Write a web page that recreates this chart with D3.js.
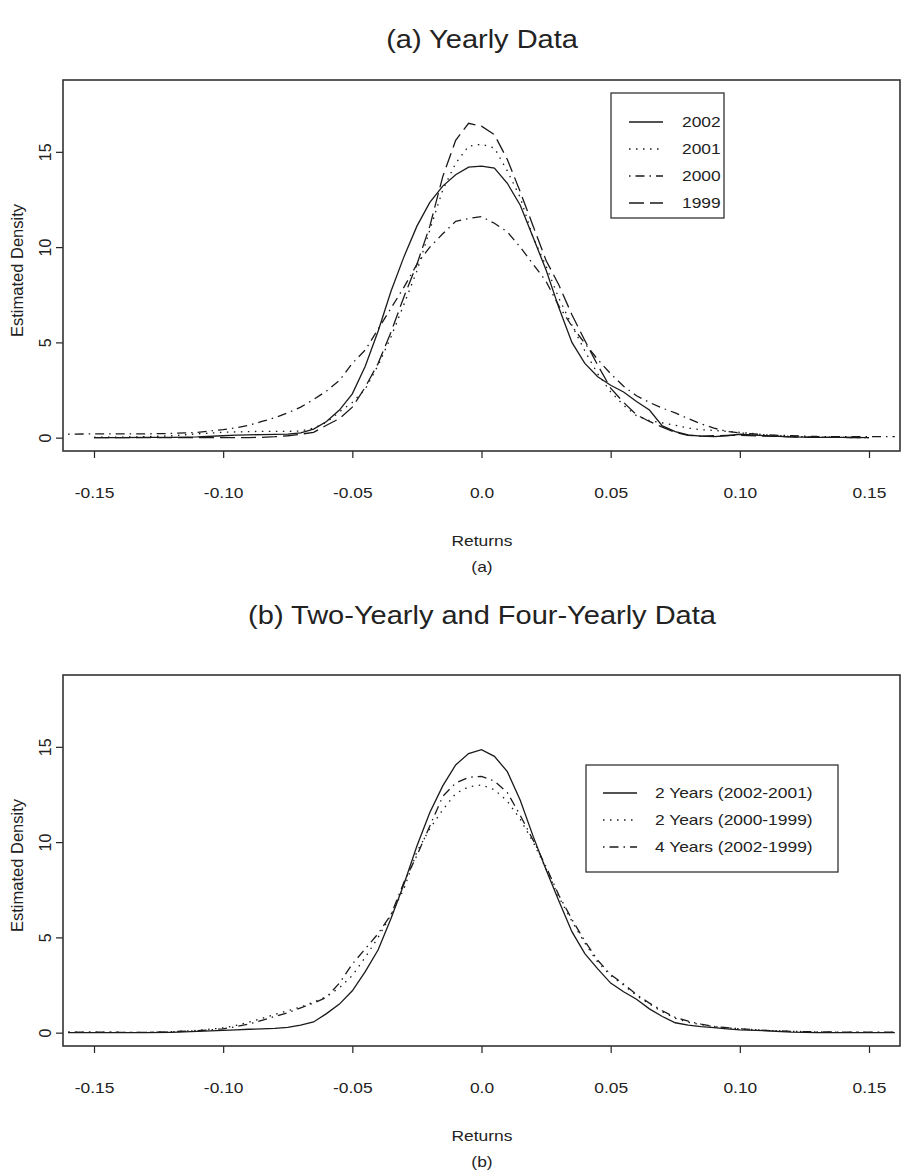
<!DOCTYPE html>
<html>
<head>
<meta charset="utf-8">
<script src="https://cdn.jsdelivr.net/npm/d3@7/dist/d3.min.js"></script>
<style>
  body { margin: 0; background: #fff; }
  svg { font-family: "Liberation Sans", Arial, Helvetica, sans-serif; }
</style>
</head>
<body>
<div id="chart"></div>
<script>
// shared grid of returns where the densities were read
const returnsGrid = [-0.16,-0.15,-0.14,-0.13,-0.12,-0.11,-0.10,
  -0.095,-0.09,-0.085,-0.08,-0.075,-0.07,-0.065,-0.06,-0.055,-0.05,-0.045,-0.04,-0.035,-0.03,-0.025,-0.02,-0.015,-0.01,-0.005,
  0,
  0.005,0.01,0.015,0.02,0.025,0.03,0.035,0.04,0.045,0.05,0.055,0.06,0.065,0.07,0.075,0.08,0.085,0.09,0.095,
  0.10,0.11,0.12,0.13,0.14,0.15,0.16];

// panel (a): yearly
const density2002 = [null,0.00,0.00,0.01,0.02,0.04,0.10,
  0.13,0.15,0.16,0.17,0.19,0.25,0.45,0.85,1.45,2.30,3.75,5.60,7.70,9.50,11.1,12.35,13.2,13.8,14.2,
  14.25,
  14.15,13.35,12.2,10.5,8.8,6.8,5.0,3.9,3.2,2.75,2.4,1.9,1.45,0.62,0.32,0.14,0.08,0.05,0.10,
  0.18,0.10,0.04,0.02,0.01,0.00,null];
const density2001 = [null,0.02,0.03,0.05,0.10,0.20,0.28,
  0.30,0.32,0.33,0.33,0.33,0.35,0.50,0.80,1.35,1.85,2.55,3.80,5.30,7.00,8.75,10.9,13.0,14.4,15.3,
  15.4,
  15.2,14.0,12.6,10.5,9.0,7.3,5.9,4.55,3.35,2.4,1.7,1.15,0.9,0.78,0.65,0.5,0.42,0.38,0.33,
  0.28,0.15,0.06,0.03,0.01,0.00,null];
const density2000 = [0.18,0.20,0.20,0.20,0.22,0.28,0.42,
  0.52,0.65,0.85,1.05,1.30,1.60,2.00,2.45,3.00,3.90,4.60,5.70,6.80,7.90,9.10,10.0,10.7,11.35,11.5,
  11.6,
  11.25,10.8,10.0,9.1,8.2,6.9,5.85,4.95,4.1,3.35,2.7,2.2,1.85,1.55,1.3,1.0,0.72,0.5,0.33,
  0.25,0.15,0.10,0.06,0.05,0.05,0.05];
const density1999 = [null,0,0,0,0,0,0,
  0,0,0.02,0.05,0.10,0.18,0.28,0.65,1.00,1.60,2.65,3.90,5.55,7.40,9.10,11.1,13.7,15.6,16.5,
  16.35,
  15.9,14.6,12.9,11.1,9.3,8.0,6.45,5.1,3.8,2.6,1.85,1.2,0.85,0.55,0.28,0.12,0.08,0.10,0.12,
  0.12,0.08,0.04,0.02,0.01,0.00,null];

// panel (b): pooled periods
const density2yr0201 = [0.0,0.0,0.0,0.0,0.02,0.07,0.12,
  0.15,0.18,0.20,0.23,0.28,0.40,0.56,1.00,1.50,2.20,3.20,4.35,6.00,7.80,9.80,11.55,12.95,14.05,14.65,
  14.85,
  14.5,13.7,12.2,10.3,8.55,6.9,5.3,4.15,3.35,2.6,2.15,1.75,1.25,0.85,0.52,0.40,0.32,0.26,0.20,
  0.15,0.10,0.03,0.0,0.0,0.0,0.0];
const density2yr0099 = [0.03,0.03,0.02,0.02,0.05,0.12,0.25,
  0.38,0.55,0.75,0.95,1.15,1.35,1.60,1.90,2.35,3.00,3.95,5.00,6.20,7.55,9.50,10.7,11.7,12.55,12.9,
  13.0,
  12.75,12.15,11.2,10.0,8.6,7.1,5.85,4.7,3.7,3.0,2.5,1.95,1.5,1.1,0.75,0.55,0.42,0.32,0.25,
  0.20,0.12,0.07,0.04,0.03,0.02,0.02];
const density4yr0299 = [0.03,0.03,0.02,0.02,0.05,0.10,0.20,
  0.32,0.45,0.65,0.85,1.05,1.30,1.55,1.85,2.60,3.60,4.40,5.20,6.20,7.90,9.30,10.85,12.4,13.1,13.4,
  13.45,
  13.2,12.6,11.4,10.1,8.7,7.2,5.95,4.8,3.8,3.05,2.55,2.0,1.55,1.15,0.8,0.6,0.45,0.33,0.26,
  0.20,0.12,0.07,0.04,0.03,0.03,0.03];

const xTicks = [-0.15,-0.10,-0.05,0.0,0.05,0.10,0.15];
const xTickLabels = ["-0.15","-0.10","-0.05","0.0","0.05","0.10","0.15"];
const yTicks = [0,5,10,15];

const yearlyNames = ["2002","2001","2000","1999"];
const pooledNames = ["2 Years (2002-2001)","2 Years (2000-1999)","4 Years (2002-1999)"];

// R line types
const dashes = { solid: null, dotted: "1.5,5.5", dotdash: "1.5,5,9,5", longdash: "15,6" };

const W = 902, H = 1170;
const svg = d3.select("#chart").append("svg").attr("width", W).attr("height", H);
const ink = "#222";
const SX = 1.16;   // the scanned figure is a little wider than tall

const x = d3.scaleLinear().domain([-0.162, 0.162]).range([63, 900]);

// horizontal text, slightly stretched like the source image
function label(parent, tx, ty, str, size, anchor) {
  return parent.append("text")
    .attr("transform", `translate(${tx},${ty}) scale(${SX},1)`)
    .attr("text-anchor", anchor || "middle")
    .attr("dy", "0.35em")
    .style("font-size", size + "px")
    .attr("fill", ink)
    .text(str);
}

function drawPanel(p) {
  const y = d3.scaleLinear().domain([-0.70, 18.77]).range([p.bottom, p.top]);
  const g = svg.append("g");

  label(g, 482, p.titleY, p.title, 25);

  const clipId = "clip-" + p.id;
  g.append("clipPath").attr("id", clipId)
    .append("rect")
    .attr("x", x.range()[0]).attr("y", p.top)
    .attr("width", x.range()[1] - x.range()[0]).attr("height", p.bottom - p.top);

  const line = d3.line()
    .defined(d => d[1] != null)
    .x(d => x(d[0]))
    .y(d => y(d[1]));

  const curves = g.append("g").attr("clip-path", `url(#${clipId})`);
  p.series.forEach(s => {
    curves.append("path")
      .datum(returnsGrid.map((r, i) => [r, s.values[i]]))
      .attr("d", line)
      .attr("fill", "none")
      .attr("stroke", "#1a1a1a")
      .attr("stroke-width", 1.3)
      .attr("stroke-dasharray", dashes[s.lty]);
  });

  // x axis
  const xa = g.append("g")
    .attr("transform", `translate(0,${p.bottom})`)
    .call(d3.axisBottom(x).tickValues(xTicks).tickSize(7).tickSizeOuter(0)
      .tickFormat((d, i) => xTickLabels[i]));
  xa.select(".domain").remove();
  xa.selectAll("line").attr("stroke", ink).attr("stroke-width", 1.2);
  xa.selectAll("text")
    .attr("y", null).attr("dy", "0.35em")
    .attr("transform", `translate(0,42) scale(${SX},1)`)
    .style("font-size", "15px").style("font-family", null).attr("fill", ink);

  // y axis
  const ya = g.append("g")
    .attr("transform", `translate(${x.range()[0]},0)`)
    .call(d3.axisLeft(y).tickValues(yTicks).tickSize(7).tickSizeOuter(0));
  ya.select(".domain").remove();
  ya.selectAll("line").attr("stroke", ink).attr("stroke-width", 1.2);
  ya.selectAll("text")
    .attr("transform", "rotate(-90)")
    .attr("x", 0).attr("y", -18).attr("dy", "0.35em")
    .attr("text-anchor", "middle")
    .style("font-size", "16px").style("font-family", null).attr("fill", ink);

  // frame
  g.append("rect")
    .attr("x", x.range()[0]).attr("y", p.top)
    .attr("width", x.range()[1] - x.range()[0]).attr("height", p.bottom - p.top)
    .attr("fill", "none").attr("stroke", "#333").attr("stroke-width", 1.6);

  g.append("text")
    .attr("transform", `translate(17,${(p.top + p.bottom) / 2 + 5}) rotate(-90)`)
    .attr("text-anchor", "middle").attr("dy", "0.35em")
    .style("font-size", "16.5px").attr("fill", ink)
    .text("Estimated Density");

  label(g, 482, p.bottom + 90, "Returns", 15);
  label(g, 482, p.bottom + 116, p.subLabel, 15);

  // legend
  const L = p.legend;
  const lg = g.append("g");
  lg.append("rect")
    .attr("x", L.x).attr("y", L.y).attr("width", L.w).attr("height", L.h)
    .attr("fill", "#fff").attr("stroke", "#333").attr("stroke-width", 1.3);
  p.series.forEach((s, i) => {
    const ry = L.firstRow + i * L.rowGap;
    lg.append("line")
      .attr("x1", L.lineX).attr("x2", L.lineX + 34)
      .attr("y1", ry).attr("y2", ry)
      .attr("stroke", "#1a1a1a").attr("stroke-width", 1.3)
      .attr("stroke-dasharray", dashes[s.lty]);
    label(lg, L.textX, ry, s.name, 15, "start");
  });
}

drawPanel({
  id: "a", top: 80, bottom: 451, titleY: 39,
  title: "(a) Yearly Data", subLabel: "(a)",
  series: [
    { name: yearlyNames[0], values: density2002, lty: "solid" },
    { name: yearlyNames[1], values: density2001, lty: "dotted" },
    { name: yearlyNames[2], values: density2000, lty: "dotdash" },
    { name: yearlyNames[3], values: density1999, lty: "longdash" }
  ],
  legend: { x: 611, y: 93, w: 113, h: 125, firstRow: 122, rowGap: 27, lineX: 629, textX: 682 }
});

drawPanel({
  id: "b", top: 675, bottom: 1046, titleY: 615,
  title: "(b) Two-Yearly and Four-Yearly Data", subLabel: "(b)",
  series: [
    { name: pooledNames[0], values: density2yr0201, lty: "solid" },
    { name: pooledNames[1], values: density2yr0099, lty: "dotted" },
    { name: pooledNames[2], values: density4yr0299, lty: "dotdash" }
  ],
  legend: { x: 586, y: 765, w: 252, h: 107, firstRow: 793, rowGap: 27, lineX: 603, textX: 655 }
});
</script>
</body>
</html>
